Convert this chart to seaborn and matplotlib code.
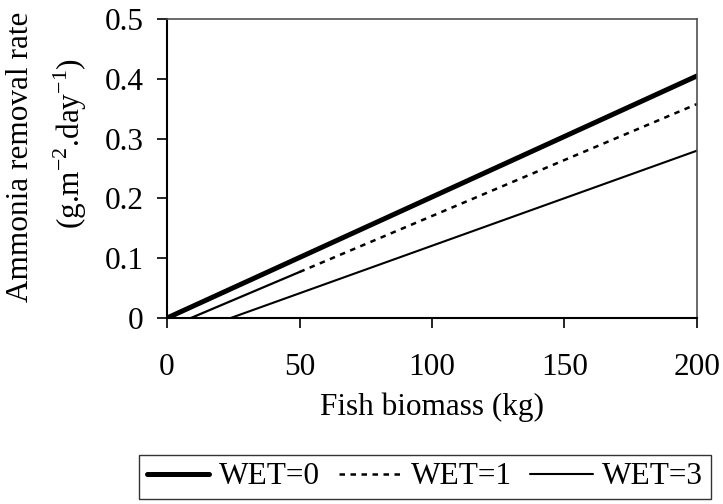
import matplotlib
matplotlib.use("Agg")
import matplotlib.pyplot as plt
import seaborn as sns
import pandas as pd

sns.set_theme(style="white")
plt.rcParams['font.family'] = ['Liberation Serif', 'DejaVu Serif']
plt.rcParams['mathtext.fontset'] = 'custom'
plt.rcParams['mathtext.rm'] = 'Liberation Serif'
plt.rcParams['text.color'] = 'black'
plt.rcParams['axes.labelcolor'] = 'black'

series = ["WET=0", "WET=1", "WET=3"]
x_wet0 = [0, 200]
y_wet0 = [0.0, 0.405]
x_wet1 = [9, 50, 200]
y_wet1 = [0.0, 0.077, 0.358]
x_wet3 = [24, 200]
y_wet3 = [0.0, 0.280]
x_ticks = [0, 50, 100, 150, 200]
y_ticks = [0, 0.1, 0.2, 0.3, 0.4, 0.5]
y_tick_labels = ["0", "0.1", "0.2", "0.3", "0.4", "0.5"]
x_label = "Fish biomass (kg)"
y_label_1 = "Ammonia removal rate"
y_label_2 = "(g.m$^{-2}$.day$^{-1}$)"

FS = 22.5

df0 = pd.DataFrame({"x": x_wet0, "y": y_wet0})
df1a = pd.DataFrame({"x": x_wet1[:2], "y": y_wet1[:2]})
df1b = pd.DataFrame({"x": x_wet1[1:], "y": y_wet1[1:]})
df3 = pd.DataFrame({"x": x_wet3, "y": y_wet3})

fig = plt.figure(figsize=(7.23, 5.04), dpi=100)
ax = fig.add_axes([0.231, 0.369, 0.733, 0.593])

sns.lineplot(data=df0, x="x", y="y", ax=ax, color="black", linewidth=3.6,
             label=series[0], legend=False)
sns.lineplot(data=df1a, x="x", y="y", ax=ax, color="black", linewidth=1.6,
             legend=False)
sns.lineplot(data=df1b, x="x", y="y", ax=ax, color="black", linewidth=1.8,
             linestyle=(0, (2.2, 2.2)), label=series[1], legend=False)
sns.lineplot(data=df3, x="x", y="y", ax=ax, color="black", linewidth=1.5,
             label=series[2], legend=False)

ax.set_xlim(0, 200)
ax.set_ylim(0, 0.5)
ax.set_xticks(x_ticks)
ax.set_xticklabels([str(v) for v in x_ticks])
ax.set_yticks(y_ticks)
ax.set_yticklabels(y_tick_labels)
ax.tick_params(axis="both", which="both", direction="out", length=7, width=1.2,
               colors="black", labelsize=FS, bottom=True, left=True)
ax.tick_params(axis="x", pad=18)
ax.tick_params(axis="y", pad=10)
for side in ["top", "right"]:
    ax.spines[side].set_color("#505050")
    ax.spines[side].set_linewidth(1.2)
for side in ["left", "bottom"]:
    ax.spines[side].set_color("black")
    ax.spines[side].set_linewidth(1.5)

ax.set_xlabel(x_label, fontsize=FS, labelpad=8, color="black")
ax.set_ylabel("")
fig.text(21 / 723, 1 - 157 / 504, y_label_1, rotation=90, ha="center", va="center",
         fontsize=FS, color="black")
fig.text(70 / 723, 1 - 143 / 504, y_label_2, rotation=90, ha="center", va="center",
         fontsize=FS, color="black")

handles, labels = ax.get_legend_handles_labels()
leg = fig.legend(handles, labels, loc="center", bbox_to_anchor=(425 / 723, 1 - 477 / 504),
                 ncol=3, frameon=True, fancybox=False, fontsize=FS,
                 handlelength=2.0, handletextpad=0.3, columnspacing=0.6,
                 borderpad=0.25, borderaxespad=0, edgecolor="black")
leg.get_frame().set_linewidth(1.0)
for t in leg.get_texts():
    t.set_color("black")

fig.savefig("out.png", dpi=100)
